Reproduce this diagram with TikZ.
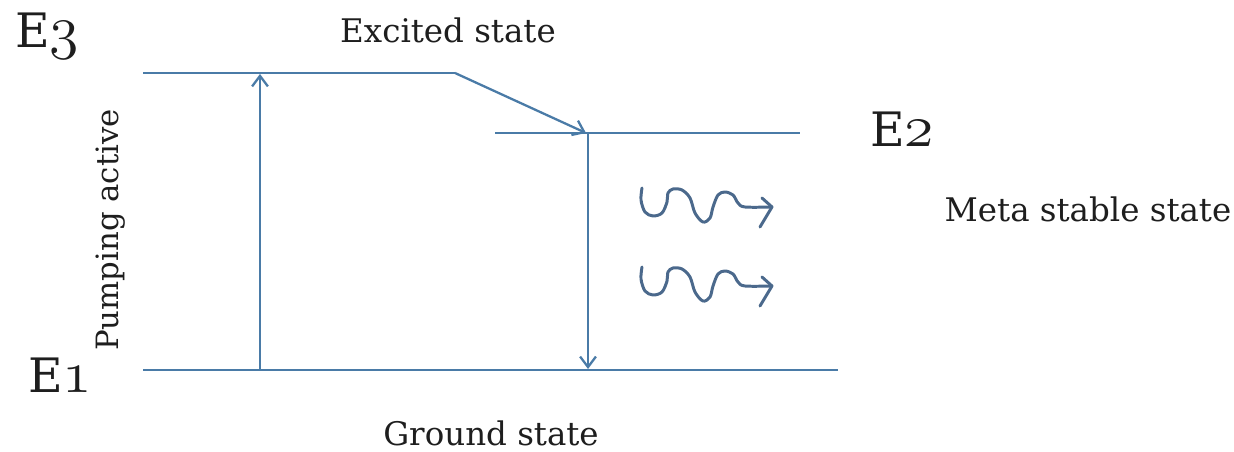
\documentclass[tikz,border=0pt]{standalone}
\usepackage{fontspec}
\newfontfamily\lblfont{DejaVu Serif}
\usetikzlibrary{arrows.meta}
\definecolor{lvl}{RGB}{74,123,167}
\definecolor{wv}{RGB}{75,105,140}
\definecolor{txt}{RGB}{30,30,30}
\tikzset{
  lvlline/.style={draw=lvl, line width=1.3pt},
  lvlarrow/.style={draw=lvl, line width=1.3pt, -{Straight Barb[length=6pt,width=9pt]}},
  lbl/.style={font=\lblfont\fontsize{18.5}{22}\selectfont, text=txt, inner sep=0pt, anchor=base},
  biglbl/.style={font=\lblfont\fontsize{27}{32}\selectfont, text=txt, inner sep=0pt, anchor=base west},
  wave/.style={draw=wv, line width=1.7pt, line cap=round, line join=round}
}
\newcommand{\osn}[1]{\scalebox{1.64}{\fontsize{20.74}{24}\selectfont$\mathnormal{#1}$}}
\begin{document}
\begin{tikzpicture}[x=0.02cm, y=-0.02cm]
\useasboundingbox (0,0) rectangle (1234,452);
% level coordinates
\coordinate (e3a) at (143,73);
\coordinate (e3b) at (455,73);
\coordinate (e2a) at (495,133);
\coordinate (e2b) at (800,133);
\coordinate (e2hit) at (586,133);
\coordinate (e1a) at (143,370);
\coordinate (e1b) at (838,370);
\coordinate (pumpbot) at (260,370);
\coordinate (pumptop) at (260,74);
\coordinate (downtop) at (588,133);
\coordinate (downbot) at (588,369);
% levels
\draw[lvlline] (e3a) -- (e3b);
\draw[lvlline] (e2a) -- (e2b);
\draw[lvlline] (e1a) -- (e1b);
\draw[lvlarrow] (e3b) -- (e2hit);
\draw[lvlarrow] (pumpbot) -- (pumptop);
\draw[lvlarrow] (downtop) -- (downbot);
% labels
\node[biglbl] (E3) at (15,48) {E\osn{3}};
\node[biglbl] (E2) at (870,147) {E\osn{2}};
\node[biglbl] (E1) at (28,393) {E\osn{1}};
\node[lbl] (exc) at (448,43) {Excited state};
\node[lbl] (meta) at (1088,222) {Meta stable state};
\node[lbl] (gnd) at (491,445) {Ground state};
\node[lbl, rotate=90, font=\lblfont\fontsize{17.5}{21}\selectfont] (pump) at (118,230) {Pumping active};
% wavy photons
\foreach \dy/\nm in {0/wa,79/wb}{
  \begin{scope}[yshift=-\dy*0.02cm]
    \coordinate (\nm tip) at (772,207);
    \draw[wave] plot[smooth, tension=0.55] coordinates {(642,188) (641,200) (645,212) (653,216) (662,213) (667,202) (668,193) (673,189) (682,190) (690,198) (695,213) (703,222) (710,218) (713,207) (718,195) (725,192) (733,195) (738,203) (745,207) (772,207)};
    \draw[wave] (762,198) -- (\nm tip) -- (760,227);
  \end{scope}
}
\end{tikzpicture}
\end{document}
